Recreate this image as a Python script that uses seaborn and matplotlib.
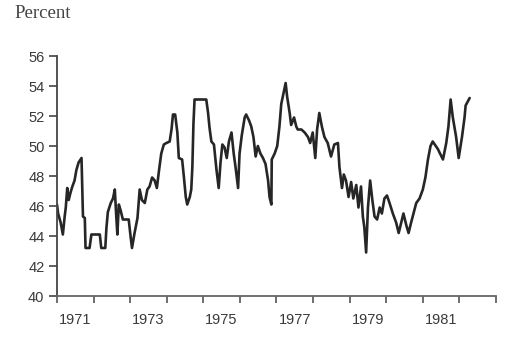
import matplotlib
matplotlib.use("Agg")
import matplotlib.pyplot as plt
import seaborn as sns
import pandas as pd
import numpy as np

# Decimal years
years = [
    1971.00, 1971.03, 1971.10, 1971.16, 1971.21, 1971.24, 1971.28, 1971.32, 1971.37, 1971.42,
    1971.48, 1971.53, 1971.59, 1971.67, 1971.71, 1971.76, 1971.78, 1971.89, 1971.94, 1972.17,
    1972.21, 1972.32, 1972.35, 1972.39, 1972.47, 1972.53, 1972.58, 1972.62, 1972.65, 1972.69,
    1972.74, 1972.80, 1972.96, 1973.01, 1973.05, 1973.12, 1973.20, 1973.26, 1973.32, 1973.40,
    1973.47, 1973.53, 1973.60, 1973.67, 1973.73, 1973.79, 1973.85, 1973.92, 1973.99, 1974.08,
    1974.13, 1974.17, 1974.23, 1974.29, 1974.33, 1974.42, 1974.47, 1974.52, 1974.56, 1974.63,
    1974.67, 1974.70, 1974.73, 1974.76, 1975.08, 1975.13, 1975.17, 1975.22, 1975.29, 1975.36,
    1975.42, 1975.47, 1975.52, 1975.58, 1975.64, 1975.70, 1975.77, 1975.83, 1975.88, 1975.95,
    1975.99, 1976.05, 1976.13, 1976.17, 1976.25, 1976.31, 1976.37, 1976.43, 1976.49, 1976.56,
    1976.63, 1976.70, 1976.77, 1976.81, 1976.86, 1976.87, 1976.95, 1977.02, 1977.08, 1977.13,
    1977.19, 1977.25, 1977.29, 1977.36, 1977.40, 1977.48, 1977.54, 1977.58, 1977.68, 1977.77,
    1977.86, 1977.92, 1977.99, 1978.06, 1978.11, 1978.17, 1978.24, 1978.31, 1978.40, 1978.49,
    1978.58, 1978.68, 1978.72, 1978.79, 1978.84, 1978.90, 1978.97, 1979.04, 1979.10, 1979.18,
    1979.24, 1979.31, 1979.36, 1979.40, 1979.45, 1979.50, 1979.56, 1979.62, 1979.68, 1979.75,
    1979.82, 1979.88, 1979.95, 1980.02, 1980.09, 1980.18, 1980.27, 1980.34, 1980.41, 1980.47,
    1980.55, 1980.61, 1980.68, 1980.82, 1980.91, 1981.00, 1981.07, 1981.14, 1981.21, 1981.27,
    1981.41, 1981.55, 1981.64, 1981.70, 1981.76, 1981.82, 1981.91, 1981.98, 1982.07, 1982.14,
    1982.17, 1982.28,
]
percent = [
    46.1, 45.5, 44.9, 44.1, 45.3, 45.9, 47.2, 46.4, 46.9, 47.3,
    47.7, 48.4, 48.9, 49.2, 45.3, 45.2, 43.2, 43.2, 44.1, 44.1,
    43.2, 43.2, 44.5, 45.6, 46.2, 46.5, 47.1, 45.3, 44.1, 46.1,
    45.7, 45.1, 45.1, 44.0, 43.2, 44.2, 45.2, 47.1, 46.4, 46.2,
    47.1, 47.3, 47.9, 47.7, 47.2, 48.4, 49.5, 50.1, 50.2, 50.3,
    51.1, 52.1, 52.1, 50.9, 49.2, 49.1, 47.9, 46.6, 46.1, 46.6,
    47.1, 48.6, 51.5, 53.1, 53.1, 52.2, 51.2, 50.3, 50.1, 48.4,
    47.2, 48.9, 50.1, 49.9, 49.2, 50.3, 50.9, 49.5, 48.6, 47.2,
    49.5, 50.7, 51.9, 52.1, 51.7, 51.3, 50.6, 49.3, 50.0, 49.5,
    49.2, 48.8, 47.7, 46.6, 46.1, 49.1, 49.5, 50.0, 51.3, 52.8,
    53.5, 54.2, 53.3, 52.2, 51.4, 51.9, 51.3, 51.1, 51.1, 50.9,
    50.6, 50.2, 50.9, 49.2, 51.1, 52.2, 51.3, 50.6, 50.2, 49.3,
    50.1, 50.2, 48.6, 47.2, 48.1, 47.7, 46.6, 47.6, 46.5, 47.4,
    45.9, 47.3, 45.3, 44.6, 42.9, 45.9, 47.7, 46.4, 45.3, 45.1,
    45.9, 45.5, 46.5, 46.7, 46.2, 45.5, 44.9, 44.2, 44.9, 45.5,
    44.7, 44.2, 44.9, 46.2, 46.5, 47.1, 47.9, 49.1, 50.0, 50.3,
    49.8, 49.1, 50.2, 51.3, 53.1, 51.9, 50.6, 49.2, 50.6, 51.9,
    52.7, 53.2,
]
year_ticks = list(range(1971, 1984))
label_years = [1971, 1973, 1975, 1977, 1979, 1981]
y_ticks = [40, 42, 44, 46, 48, 50, 52, 54, 56]

df = pd.DataFrame({"year": years, "percent": percent})

sns.set_style("ticks")
plt.rcParams["font.family"] = ["Liberation Sans", "DejaVu Sans"]

fig = plt.figure(figsize=(5.31, 3.47), dpi=100)
ax = fig.add_axes([57 / 531, 51 / 347, (496 - 57) / 531, 240 / 347])

sns.lineplot(data=df, x="year", y="percent", ax=ax, color="#262626",
             linewidth=1.9, estimator=None, sort=False)

ax.set_xlim(1971, 1983)
ax.set_ylim(40, 56)
ax.set_xticks(year_ticks)
ax.set_xticklabels([])
ax.set_xticks([y + 0.5 for y in label_years], minor=True)
ax.set_xticklabels([str(y) for y in label_years], minor=True)
ax.tick_params(axis="x", which="major", length=5, width=1.2, color="#555555")
ax.tick_params(axis="x", which="minor", length=0, pad=12, labelsize=10.5,
               labelcolor="#3a3a3a")
ax.set_yticks(y_ticks)
ax.set_yticklabels([str(v) for v in y_ticks])
ax.tick_params(axis="y", length=6, width=1.2, color="#444444", pad=3,
               labelsize=10.5, labelcolor="#3a3a3a")

ax.set_xlabel("")
ax.set_ylabel("")
sns.despine(ax=ax)
ax.spines["left"].set_color("#444444")
ax.spines["left"].set_linewidth(1.3)
ax.spines["bottom"].set_color("#666666")
ax.spines["bottom"].set_linewidth(1.3)

fig.text(14 / 531, 1 - 14 / 347, "Percent", family=["Liberation Serif", "DejaVu Serif"],
         fontsize=13.5, color="#444444", ha="left", va="center")

fig.savefig("out.png", dpi=100)
